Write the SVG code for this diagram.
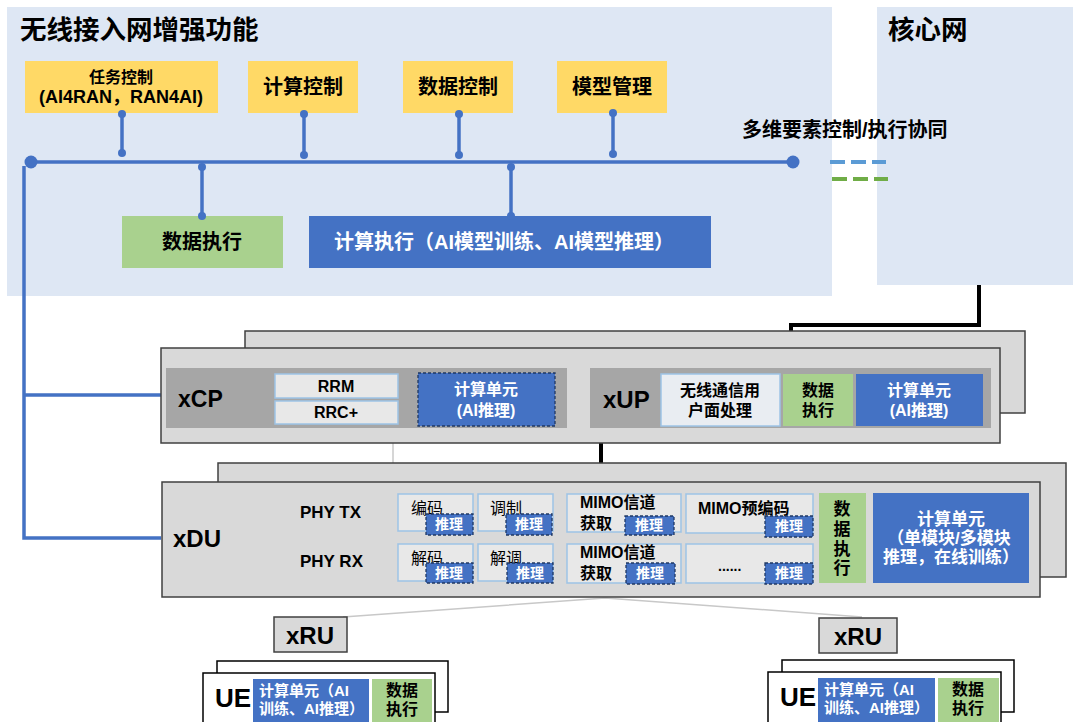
<svg xmlns="http://www.w3.org/2000/svg" width="1073" height="722" viewBox="0 0 1073 722">
<style>
text{font-family:"Liberation Sans","Noto Sans CJK SC",sans-serif;dominant-baseline:central;fill:#000}
.b{font-weight:bold}
.c{text-anchor:middle}
.w{fill:#fff}
.bg{fill:#dee7f4}
.yel{fill:#ffd966}
.grn{fill:#a9d18e}
.blu{fill:#4472c4}
.panel{fill:#d9d9d9;stroke:#404040;stroke-width:1.5}
.strip{fill:#a6a6a6}
.box{fill:#e8e8e8;stroke:#9dc3e6;stroke-width:1.5}
.dash{fill:#4472c4;stroke:#1f3864;stroke-width:1.3;stroke-dasharray:3 2}
.ue{fill:#fff;stroke:#000;stroke-width:1.5}
.bus{stroke:#4472c4;stroke-width:3.5;fill:none}
.dot{fill:#4472c4}
.blk{stroke:#000;stroke-width:4;fill:none}
.thin{stroke:#c8c8c8;stroke-width:1.5;fill:none}
</style>

<g id="ran-area">
<rect class="bg" x="7" y="7" width="825" height="289"/>
<text class="b" x="20" y="30" font-size="26.5">无线接入网增强功能</text>
</g>
<g id="core">
<rect class="bg" x="877" y="7" width="196" height="278"/>
<text class="b" x="888" y="30" font-size="26.5">核心网</text>
</g>

<g id="task-ctrl">
<rect class="yel" x="25" y="61" width="193" height="52"/>
<text class="b c" x="121" y="77" font-size="16">任务控制</text>
<text class="b c" x="121" y="97" font-size="18">(AI4RAN，RAN4AI)</text>
</g>
<g id="comp-ctrl">
<rect class="yel" x="248" y="61" width="110" height="52"/>
<text class="b c" x="303" y="87" font-size="20">计算控制</text>
</g>
<g id="data-ctrl">
<rect class="yel" x="403" y="61" width="110" height="52"/>
<text class="b c" x="458" y="87" font-size="20">数据控制</text>
</g>
<g id="model-mgmt">
<rect class="yel" x="557" y="61" width="110" height="52"/>
<text class="b c" x="612" y="87" font-size="20">模型管理</text>
</g>
<g id="data-exec">
<rect class="grn" x="122" y="216" width="161" height="52"/>
<text class="b c" x="202" y="242" font-size="20">数据执行</text>
</g>
<g id="comp-exec">
<rect class="blu" x="309" y="216" width="402" height="52"/>
<text class="b c w" x="504" y="242" font-size="20">计算执行（AI模型训练、AI模型推理）</text>
</g>
<g id="coop-label">
<text class="b" x="742" y="130" font-size="20">多维要素控制/执行协同</text>
</g>

<g id="connectors">
<line class="bus" x1="31" y1="162" x2="793" y2="162"/>
<circle class="dot" cx="31" cy="162" r="6.5"/>
<circle class="dot" cx="793" cy="162" r="6.5"/>
<line class="bus" x1="122" y1="114" x2="122" y2="153"/>
<circle class="dot" cx="122" cy="114" r="4"/><circle class="dot" cx="122" cy="153" r="4"/>
<line class="bus" x1="304" y1="114" x2="304" y2="155"/>
<circle class="dot" cx="304" cy="114" r="4"/><circle class="dot" cx="304" cy="155" r="4"/>
<line class="bus" x1="459" y1="114" x2="459" y2="155"/>
<circle class="dot" cx="459" cy="114" r="4"/><circle class="dot" cx="459" cy="155" r="4"/>
<line class="bus" x1="613" y1="113" x2="613" y2="154"/>
<circle class="dot" cx="613" cy="113" r="4"/><circle class="dot" cx="613" cy="154" r="4"/>
<line class="bus" x1="202" y1="167" x2="202" y2="216"/>
<circle class="dot" cx="202" cy="167" r="4"/><circle class="dot" cx="202" cy="216" r="4"/>
<line class="bus" x1="511" y1="167" x2="511" y2="216"/>
<circle class="dot" cx="511" cy="167" r="4"/><circle class="dot" cx="511" cy="216" r="4"/>
<path class="bus" d="M24,166 V538 H161 M24,395 H161"/>
<line x1="830" y1="162" x2="886" y2="162" stroke="#5b9bd5" stroke-width="4" stroke-dasharray="15 6"/>
<line x1="832" y1="179" x2="888" y2="179" stroke="#70ad47" stroke-width="4" stroke-dasharray="15 6"/>
<path class="blk" d="M979,285 V325 H791 V368"/>
<line class="blk" x1="601" y1="443" x2="601" y2="482"/>
<line class="thin" x1="393" y1="443" x2="393" y2="482"/>
<line x1="567" y1="399" x2="591" y2="399" stroke="#000" stroke-width="3"/>
<path class="thin" d="M605,598 L343,617 M605,598 L862,617"/>
</g>

<g id="xcp-xup">
<rect class="panel" x="245" y="331" width="780" height="82"/>
<rect class="panel" x="161" y="348" width="839" height="95"/>
<rect class="strip" x="166" y="368" width="401" height="60"/>
<rect class="strip" x="590" y="368" width="401" height="60"/>
</g>
<g id="xcp">
<text class="b" x="178" y="399" font-size="23">xCP</text>
<rect class="box" x="275" y="374" width="123" height="24"/>
<text class="b c" x="336" y="386" font-size="16">RRM</text>
<rect class="box" x="275" y="401" width="123" height="23"/>
<text class="b c" x="336" y="412" font-size="16">RRC+</text>
<rect class="dash" x="418" y="373" width="137" height="53"/>
<text class="b c w" x="486" y="389" font-size="16">计算单元</text>
<text class="b c w" x="486" y="410" font-size="16">(AI推理)</text>
</g>
<g id="xup">
<text class="b" x="603" y="399" font-size="24">xUP</text>
<rect class="box" x="661" y="374" width="119" height="52" style="fill:#e9edf2"/>
<text class="b c" x="720" y="390" font-size="16">无线通信用</text>
<text class="b c" x="720" y="410" font-size="16">户面处理</text>
<rect class="grn" x="783" y="374" width="70" height="52"/>
<text class="b c" x="818" y="390" font-size="16">数据</text>
<text class="b c" x="818" y="410" font-size="16">执行</text>
<rect class="blu" x="856" y="374" width="127" height="52"/>
<text class="b c w" x="919" y="390" font-size="16">计算单元</text>
<text class="b c w" x="919" y="410" font-size="16">(AI推理)</text>
</g>

<g id="xdu">
<rect class="panel" x="218" y="463" width="848" height="114"/>
<rect class="panel" x="162" y="482" width="878" height="115"/>
<text class="b" x="173" y="538" font-size="24">xDU</text>
<text class="b" x="300" y="512" font-size="17">PHY TX</text>
<text class="b" x="300" y="561" font-size="17">PHY RX</text>

<rect class="box" x="398" y="494" width="75" height="37"/>
<text x="411" y="508" font-size="16">编码</text>
<rect class="dash" x="426" y="514" width="47" height="21"/>
<text class="b c w" x="449" y="524" font-size="14">推理</text>

<rect class="box" x="478" y="494" width="75" height="37"/>
<text x="490" y="508" font-size="16">调制</text>
<rect class="dash" x="506" y="514" width="46" height="21"/>
<text class="b c w" x="529" y="524" font-size="14">推理</text>

<rect class="box" x="567" y="494" width="114" height="38"/>
<text class="b" x="580" y="502" font-size="16">MIMO信道</text>
<text class="b" x="580" y="523" font-size="16">获取</text>
<rect class="dash" x="625" y="516" width="49" height="19"/>
<text class="b c w" x="649" y="525" font-size="14">推理</text>

<rect class="box" x="686" y="494" width="127" height="39"/>
<text class="b" x="698" y="508" font-size="16">MIMO预编码</text>
<rect class="dash" x="765" y="516" width="48" height="21"/>
<text class="b c w" x="789" y="526" font-size="14">推理</text>

<rect class="box" x="398" y="544" width="75" height="37"/>
<text x="411" y="558" font-size="16">解码</text>
<rect class="dash" x="426" y="563" width="47" height="20"/>
<text class="b c w" x="449" y="573" font-size="14">推理</text>

<rect class="box" x="478" y="544" width="75" height="37"/>
<text x="490" y="558" font-size="16">解调</text>
<rect class="dash" x="507" y="563" width="46" height="20"/>
<text class="b c w" x="530" y="573" font-size="14">推理</text>

<rect class="box" x="567" y="544" width="114" height="39"/>
<text class="b" x="580" y="552" font-size="16">MIMO信道</text>
<text class="b" x="580" y="573" font-size="16">获取</text>
<rect class="dash" x="626" y="563" width="49" height="21"/>
<text class="b c w" x="650" y="573" font-size="14">推理</text>

<rect class="box" x="686" y="544" width="127" height="39"/>
<text class="b" x="718" y="566" font-size="14">......</text>
<rect class="dash" x="765" y="563" width="48" height="21"/>
<text class="b c w" x="789" y="573" font-size="14">推理</text>

<rect class="grn" x="819" y="493" width="47" height="90"/>
<text class="b c" x="842" y="509" font-size="17">数</text>
<text class="b c" x="842" y="529" font-size="17">据</text>
<text class="b c" x="842" y="549" font-size="17">执</text>
<text class="b c" x="842" y="568" font-size="17">行</text>

<rect class="blu" x="873" y="493" width="156" height="90"/>
<text class="b c w" x="951" y="519" font-size="17">计算单元</text>
<text class="b c w" x="949" y="538" font-size="17">（单模块/多模块</text>
<text class="b c w" x="951" y="557" font-size="17">推理，在线训练）</text>
</g>

<g id="xru-left">
<rect class="panel" x="274" y="617" width="73" height="35"/>
<text class="b c" x="310" y="635" font-size="24">xRU</text>
</g>
<g id="xru-right">
<rect class="panel" x="819" y="618" width="78" height="35"/>
<text class="b c" x="858" y="636" font-size="24">xRU</text>
</g>

<g id="ue-left">
<rect class="ue" x="217" y="661" width="231" height="51"/>
<rect class="ue" x="203" y="673" width="232" height="60"/>
<text class="b" x="215" y="698" font-size="26">UE</text>
<rect class="blu" x="253" y="679" width="116" height="43"/>
<text class="w" x="259" y="690" font-size="15" font-weight="bold">计算单元（AI</text>
<text class="w" x="259" y="708" font-size="15" font-weight="bold">训练、AI推理）</text>
<rect class="grn" x="372" y="679" width="60" height="43"/>
<text class="b c" x="402" y="690" font-size="16">数据</text>
<text class="b c" x="402" y="709" font-size="16">执行</text>
</g>
<g id="ue-right">
<rect class="ue" x="782" y="660" width="232" height="52"/>
<rect class="ue" x="768" y="672" width="233" height="60"/>
<text class="b" x="780" y="697" font-size="26">UE</text>
<rect class="blu" x="818" y="678" width="117" height="44"/>
<text class="w" x="824" y="689" font-size="15" font-weight="bold">计算单元（AI</text>
<text class="w" x="824" y="707" font-size="15" font-weight="bold">训练、AI推理）</text>
<rect class="grn" x="938" y="678" width="61" height="44"/>
<text class="b c" x="968" y="689" font-size="16">数据</text>
<text class="b c" x="968" y="708" font-size="16">执行</text>
</g>
</svg>
